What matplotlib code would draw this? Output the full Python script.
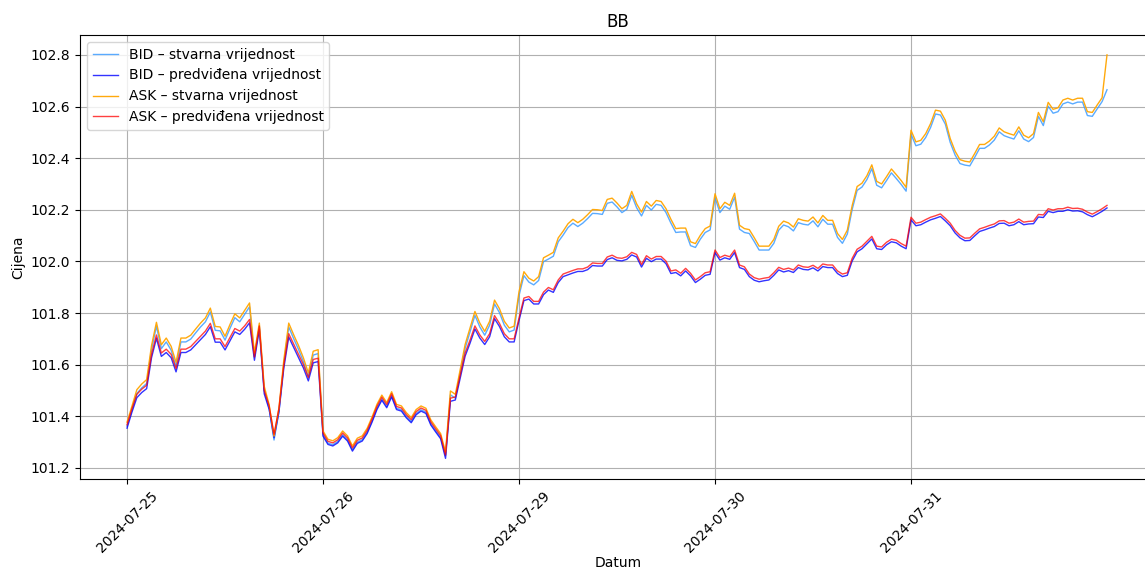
import matplotlib
matplotlib.use("Agg")
import matplotlib.pyplot as plt

title = "BB"
day_labels = ["2024-07-25", "2024-07-26", "2024-07-29", "2024-07-30", "2024-07-31"]
points_per_day = 40

ask_actual = [
    101.377, 101.439, 101.503, 101.525, 101.542, 101.674, 101.764, 101.677, 101.703, 101.671,
    101.609, 101.703, 101.703, 101.714, 101.738, 101.761, 101.781, 101.819, 101.748, 101.746,
    101.710, 101.755, 101.797, 101.781, 101.810, 101.839, 101.645, 101.761, 101.516, 101.445,
    101.323, 101.432, 101.619, 101.761, 101.716, 101.674, 101.626, 101.568, 101.652, 101.658,
    101.343, 101.311, 101.305, 101.317, 101.343, 101.324, 101.285, 101.315, 101.324, 101.353,
    101.397, 101.446, 101.482, 101.453, 101.495, 101.446, 101.440, 101.414, 101.395, 101.426,
    101.440, 101.431, 101.386, 101.359, 101.333, 101.262, 101.498, 101.485, 101.581, 101.678,
    101.742, 101.806, 101.761, 101.729, 101.768, 101.850, 101.817, 101.768, 101.742, 101.749,
    101.883, 101.960, 101.935, 101.924, 101.941, 102.014, 102.024, 102.035, 102.091, 102.117,
    102.146, 102.163, 102.150, 102.163, 102.181, 102.201, 102.200, 102.197, 102.240, 102.245,
    102.226, 102.204, 102.217, 102.271, 102.223, 102.191, 102.232, 102.214, 102.236, 102.232,
    102.204, 102.163, 102.127, 102.129, 102.129, 102.076, 102.069, 102.101, 102.127, 102.137,
    102.262, 102.204, 102.229, 102.217, 102.264, 102.140, 102.127, 102.123, 102.092, 102.059,
    102.059, 102.059, 102.085, 102.136, 102.156, 102.149, 102.133, 102.165, 102.159, 102.156,
    102.172, 102.149, 102.178, 102.159, 102.159, 102.108, 102.085, 102.121, 102.217, 102.290,
    102.303, 102.332, 102.374, 102.310, 102.300, 102.328, 102.358, 102.336, 102.313, 102.287,
    102.508, 102.463, 102.469, 102.495, 102.534, 102.586, 102.582, 102.547, 102.476, 102.427,
    102.394, 102.388, 102.385, 102.418, 102.453, 102.453, 102.466, 102.485, 102.517, 102.502,
    102.495, 102.489, 102.521, 102.489, 102.479, 102.495, 102.577, 102.541, 102.616, 102.589,
    102.595, 102.625, 102.632, 102.625, 102.632, 102.632, 102.580, 102.577, 102.606, 102.634,
    102.800,
]

bid_actual = [
    101.362, 101.424, 101.488, 101.510, 101.527, 101.659, 101.749, 101.662, 101.688, 101.656,
    101.594, 101.688, 101.688, 101.699, 101.723, 101.746, 101.766, 101.804, 101.733, 101.731,
    101.695, 101.740, 101.782, 101.766, 101.795, 101.824, 101.630, 101.746, 101.501, 101.430,
    101.308, 101.417, 101.604, 101.746, 101.701, 101.659, 101.611, 101.553, 101.637, 101.643,
    101.328, 101.296, 101.290, 101.302, 101.328, 101.309, 101.270, 101.300, 101.309, 101.338,
    101.382, 101.431, 101.467, 101.438, 101.480, 101.431, 101.425, 101.399, 101.380, 101.411,
    101.425, 101.416, 101.371, 101.344, 101.318, 101.247, 101.483, 101.470, 101.566, 101.663,
    101.727, 101.791, 101.746, 101.714, 101.753, 101.835, 101.802, 101.753, 101.727, 101.734,
    101.868, 101.945, 101.920, 101.909, 101.926, 101.999, 102.009, 102.020, 102.076, 102.102,
    102.131, 102.148, 102.135, 102.148, 102.166, 102.186, 102.185, 102.182, 102.225, 102.230,
    102.211, 102.189, 102.202, 102.256, 102.208, 102.176, 102.217, 102.199, 102.221, 102.217,
    102.189, 102.148, 102.112, 102.114, 102.114, 102.061, 102.054, 102.086, 102.112, 102.122,
    102.247, 102.189, 102.214, 102.202, 102.249, 102.125, 102.112, 102.108, 102.077, 102.044,
    102.044, 102.044, 102.070, 102.121, 102.141, 102.134, 102.118, 102.150, 102.144, 102.141,
    102.157, 102.134, 102.163, 102.144, 102.144, 102.093, 102.070, 102.106, 102.202, 102.275,
    102.288, 102.317, 102.359, 102.295, 102.285, 102.313, 102.343, 102.321, 102.298, 102.272,
    102.493, 102.448, 102.454, 102.480, 102.519, 102.571, 102.567, 102.532, 102.461, 102.412,
    102.379, 102.373, 102.370, 102.403, 102.438, 102.438, 102.451, 102.470, 102.502, 102.487,
    102.480, 102.474, 102.506, 102.474, 102.464, 102.480, 102.562, 102.526, 102.601, 102.574,
    102.580, 102.610, 102.617, 102.610, 102.617, 102.617, 102.565, 102.562, 102.591, 102.619,
    102.665,
]

ask_predicted = [
    101.367, 101.429, 101.485, 101.505, 101.520, 101.640, 101.715, 101.645, 101.660, 101.640,
    101.585, 101.660, 101.660, 101.670, 101.690, 101.710, 101.730, 101.760, 101.700, 101.700,
    101.670, 101.705, 101.740, 101.730, 101.750, 101.775, 101.630, 101.750, 101.500, 101.440,
    101.330, 101.430, 101.600, 101.720, 101.680, 101.640, 101.600, 101.550, 101.620, 101.625,
    101.335, 101.303, 101.297, 101.309, 101.335, 101.316, 101.277, 101.307, 101.316, 101.345,
    101.389, 101.438, 101.474, 101.445, 101.487, 101.438, 101.432, 101.406, 101.387, 101.418,
    101.432, 101.423, 101.378, 101.351, 101.325, 101.250, 101.470, 101.475, 101.560, 101.645,
    101.695, 101.750, 101.715, 101.690, 101.720, 101.790, 101.760, 101.720, 101.700, 101.700,
    101.781, 101.858, 101.864, 101.845, 101.845, 101.881, 101.899, 101.890, 101.928, 101.951,
    101.958, 101.965, 101.971, 101.971, 101.978, 101.994, 101.992, 101.992, 102.017, 102.024,
    102.014, 102.012, 102.018, 102.035, 102.027, 101.988, 102.022, 102.009, 102.019, 102.019,
    102.001, 101.963, 101.967, 101.954, 101.973, 101.954, 101.928, 101.941, 101.956, 101.960,
    102.044, 102.015, 102.024, 102.018, 102.044, 101.986, 101.979, 101.951, 101.937, 101.931,
    101.935, 101.938, 101.956, 101.977, 101.969, 101.974, 101.967, 101.986, 101.979, 101.977,
    101.985, 101.973, 101.990, 101.986, 101.986, 101.963, 101.951, 101.956, 102.012, 102.047,
    102.059, 102.078, 102.097, 102.059, 102.056, 102.074, 102.086, 102.082, 102.069, 102.059,
    102.171, 102.148, 102.152, 102.162, 102.171, 102.177, 102.184, 102.167, 102.148, 102.120,
    102.101, 102.090, 102.091, 102.109, 102.126, 102.132, 102.139, 102.145, 102.157, 102.158,
    102.148, 102.152, 102.164, 102.152, 102.155, 102.156, 102.182, 102.180, 102.204, 102.199,
    102.204, 102.204, 102.210, 102.205, 102.206, 102.202, 102.191, 102.183, 102.193, 102.204,
    102.217,
]

bid_predicted = [
    101.354, 101.416, 101.472, 101.492, 101.507, 101.627, 101.702, 101.632, 101.647, 101.627,
    101.572, 101.647, 101.647, 101.657, 101.677, 101.697, 101.717, 101.747, 101.687, 101.687,
    101.657, 101.692, 101.727, 101.717, 101.737, 101.762, 101.617, 101.737, 101.487, 101.427,
    101.317, 101.417, 101.587, 101.707, 101.667, 101.627, 101.587, 101.537, 101.607, 101.612,
    101.323, 101.291, 101.285, 101.297, 101.323, 101.304, 101.265, 101.295, 101.304, 101.333,
    101.377, 101.426, 101.462, 101.433, 101.475, 101.426, 101.420, 101.394, 101.375, 101.406,
    101.420, 101.411, 101.366, 101.339, 101.313, 101.237, 101.458, 101.463, 101.548, 101.633,
    101.683, 101.738, 101.703, 101.678, 101.708, 101.778, 101.748, 101.708, 101.688, 101.688,
    101.771, 101.848, 101.854, 101.835, 101.835, 101.871, 101.889, 101.880, 101.918, 101.941,
    101.948, 101.955, 101.961, 101.961, 101.968, 101.984, 101.982, 101.982, 102.007, 102.014,
    102.004, 102.002, 102.008, 102.025, 102.017, 101.978, 102.012, 101.999, 102.009, 102.009,
    101.991, 101.953, 101.957, 101.944, 101.963, 101.944, 101.918, 101.931, 101.946, 101.950,
    102.034, 102.005, 102.014, 102.008, 102.034, 101.976, 101.969, 101.941, 101.927, 101.921,
    101.925, 101.928, 101.946, 101.967, 101.959, 101.964, 101.957, 101.976, 101.969, 101.967,
    101.975, 101.963, 101.980, 101.976, 101.976, 101.953, 101.941, 101.946, 102.002, 102.037,
    102.049, 102.068, 102.087, 102.049, 102.046, 102.064, 102.076, 102.072, 102.059, 102.049,
    102.161, 102.138, 102.142, 102.152, 102.161, 102.167, 102.174, 102.157, 102.138, 102.110,
    102.091, 102.080, 102.081, 102.099, 102.116, 102.122, 102.129, 102.135, 102.147, 102.148,
    102.138, 102.142, 102.154, 102.142, 102.145, 102.146, 102.172, 102.170, 102.194, 102.189,
    102.194, 102.194, 102.200, 102.195, 102.196, 102.192, 102.181, 102.173, 102.183, 102.194,
    102.207,
]

x = list(range(len(ask_actual)))
tick_pos = [i * points_per_day for i in range(len(day_labels))]

fig = plt.figure(figsize=(11.45, 5.72), dpi=100)
ax = fig.add_axes([80 / 1145, (572 - 479) / 572, 1076 / 1145, 444 / 572])

ax.plot(x, bid_actual, color="#3d9cff", lw=1.0, alpha=0.85, label="BID – stvarna vrijednost")
ax.plot(x, bid_predicted, color="blue", lw=1.0, alpha=0.8, label="BID – predviđena vrijednost")
ax.plot(x, ask_actual, color="orange", lw=1.0, alpha=0.95, label="ASK – stvarna vrijednost")
ax.plot(x, ask_predicted, color="red", lw=1.0, alpha=0.75, label="ASK – predviđena vrijednost")

ax.set_xlim(-9.6, 210)
ax.set_ylim(101.157, 102.877)
ax.set_yticks([101.2, 101.4, 101.6, 101.8, 102.0, 102.2, 102.4, 102.6, 102.8])
ax.set_xticks(tick_pos)
ax.set_xticklabels(day_labels, rotation=45)
ax.grid(True)
ax.set_title(title)
ax.set_xlabel("Datum", labelpad=1)
ax.set_ylabel("Cijena")
ax.legend(loc="upper left", handlelength=1.8)

fig.savefig("out.png", dpi=100)
